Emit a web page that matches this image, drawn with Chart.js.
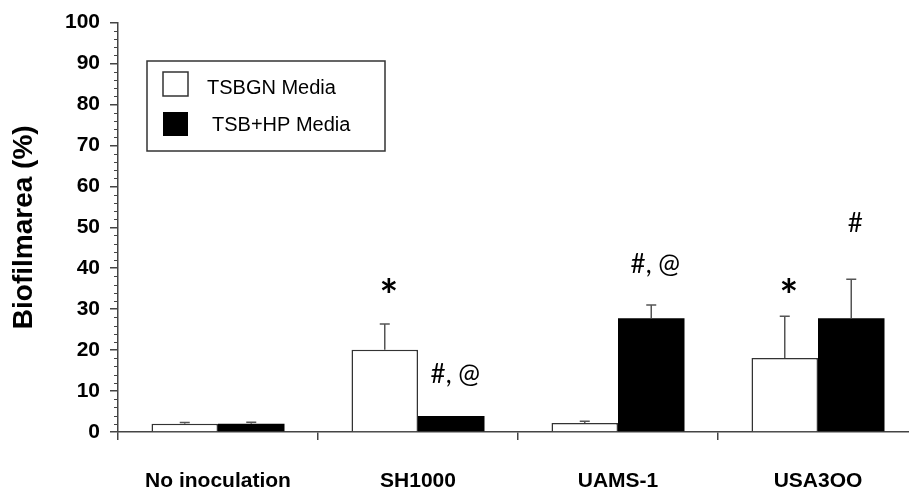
<!DOCTYPE html>
<html><head><meta charset="utf-8">
<script src="https://cdn.jsdelivr.net/npm/chart.js@4.4.1/dist/chart.umd.min.js"></script>
<style>html,body{margin:0;padding:0;background:#fff;overflow:hidden}
#wrap{width:909px;height:491px;overflow:hidden;position:relative;background:#fff}
canvas{display:block}</style></head>
<body><div id="wrap"><canvas id="c" width="930" height="491"></canvas></div>
<script>
const categories = ["No inoculation", "SH1000", "UAMS-1", "USA3OO"];
const seriesNames = ["TSBGN Media", "TSB+HP Media"];
const tsbgnValues = [2.0, 20.1, 2.2, 18.1];
const tsbgnErrors = [0.3, 6.3, 0.4, 10.2];
const tsbhpValues = [2.0, 3.9, 27.8, 27.8];
const tsbhpErrors = [0.4, 0, 3.2, 9.5];
const yTickValues = [0, 10, 20, 30, 40, 50, 60, 70, 80, 90, 100];
const tsbgnMarks = ["", "*", "", "*"];
const tsbgnMarkY = [null, 35.5, null, 35.5];
const tsbhpMarks = ["", "#, @", "#, @", "#"];
const tsbhpMarkY = [null, 14, 41, 51];

const AXIS = '#444';
const extras = {
  id: 'extras',
  afterDatasetsDraw(chart) {
    const {ctx, scales: {x, y}} = chart;
    ctx.save();
    chart.data.datasets.forEach((ds, i) => {
      const meta = chart.getDatasetMeta(i);
      meta.data.forEach((bar, j) => {
        const err = ds.errors[j];
        if (err > 0) {
          const yb = y.getPixelForValue(ds.data[j]);
          const yt = y.getPixelForValue(ds.data[j] + err);
          ctx.strokeStyle = '#555';
          ctx.lineWidth = 1.5;
          ctx.beginPath();
          ctx.moveTo(bar.x, yb); ctx.lineTo(bar.x, yt);
          ctx.moveTo(bar.x - 5, yt); ctx.lineTo(bar.x + 5, yt);
          ctx.stroke();
        }
        const m = ds.marks[j];
        if (m) {
          ctx.fillStyle = '#000';
          ctx.textAlign = 'center';
          ctx.textBaseline = 'middle';
          ctx.font = m === '*' ? 'bold 44px Lato' : '26px Lato';
          ctx.fillText(m, bar.x + 4, y.getPixelForValue(ds.markY[j]) + (m === '*' ? 10 : 0));
        }
      });
    });
    // minor ticks on y axis
    ctx.strokeStyle = AXIS;
    ctx.lineWidth = 1;
    for (let v = 0; v <= 100; v += 2) {
      if (v % 10 === 0) continue;
      const py = Math.round(y.getPixelForValue(v)) + 0.5;
      ctx.beginPath();
      ctx.moveTo(x.left - 4, py); ctx.lineTo(x.left, py);
      ctx.stroke();
    }
    // legend
    const lx = 147, ly = 61, lw = 238, lh = 90;
    ctx.strokeStyle = '#333';
    ctx.lineWidth = 1.5;
    ctx.fillStyle = '#fff';
    ctx.fillRect(lx, ly, lw, lh);
    ctx.strokeRect(lx, ly, lw, lh);
    ctx.fillStyle = '#fff';
    ctx.fillRect(163, 72, 25, 24);
    ctx.strokeRect(163, 72, 25, 24);
    ctx.fillStyle = '#000';
    ctx.fillRect(163, 112, 25, 24);
    ctx.font = '20px "Liberation Sans"';
    ctx.textAlign = 'left';
    ctx.textBaseline = 'middle';
    ctx.fillText(seriesNames[0], 207, 88);
    ctx.fillText(seriesNames[1], 212, 125);
    ctx.restore();
  }
};

new Chart(document.getElementById('c'), {
  type: 'bar',
  data: {
    labels: categories,
    datasets: [
      {label: seriesNames[0], data: tsbgnValues, errors: tsbgnErrors, marks: tsbgnMarks, markY: tsbgnMarkY,
       backgroundColor: '#fff', borderColor: '#333', borderWidth: 1.5, borderSkipped: 'bottom'},
      {label: seriesNames[1], data: tsbhpValues, errors: tsbhpErrors, marks: tsbhpMarks, markY: tsbhpMarkY,
       backgroundColor: '#000', borderColor: '#000', borderWidth: 0}
    ]
  },
  options: {
    responsive: false, animation: false, devicePixelRatio: 1,
    layout: {padding: {top: 20, right: 12, left: 0, bottom: 0}},
    datasets: {bar: {categoryPercentage: 0.665, barPercentage: 1}},
    plugins: {legend: {display: false}, tooltip: {enabled: false}},
    scales: {
      x: {
        grid: {display: true, drawOnChartArea: false, drawTicks: true, tickLength: 8, color: AXIS, lineWidth: 1.5, offset: true},
        border: {color: AXIS, width: 1.5},
        ticks: {font: {family: 'Liberation Sans', size: 21, weight: 'bold'}, color: '#000', padding: 29, maxRotation: 0},
        afterFit(s) { s.height = 59; }
      },
      y: {
        min: 0, max: 100,
        afterBuildTicks(s) { s.ticks = yTickValues.map(v => ({value: v})); },
        grid: {drawOnChartArea: false, drawTicks: true, tickLength: 8, color: AXIS, lineWidth: 1.5},
        border: {color: AXIS, width: 1.5},
        ticks: {font: {family: 'Liberation Sans', size: 21, weight: 'bold'}, color: '#000', padding: 10},
        title: {display: true, text: 'Biofilmarea (%)', font: {family: 'Liberation Sans', size: 28, weight: 'bold'}, color: '#000', padding: {top: 7, bottom: 0}},
        afterFit(s) { s.width = 118; }
      }
    }
  },
  plugins: [extras]
});
</script></body></html>
